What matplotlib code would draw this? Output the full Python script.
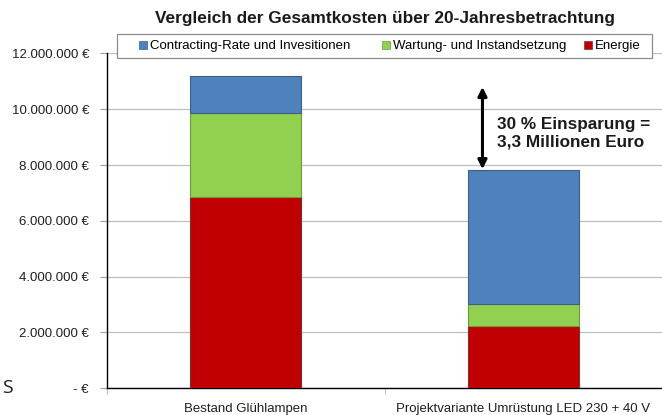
import matplotlib
matplotlib.use("Agg")
import matplotlib.pyplot as plt
from matplotlib.patches import Patch, Rectangle
from matplotlib.ticker import FuncFormatter

plt.rcParams['font.family'] = ['Liberation Sans', 'DejaVu Sans']

categories = ["Bestand Glühlampen", "Projektvariante Umrüstung LED 230 + 40 V"]
energie = [6860000, 2210000]
wartung = [3000000, 820000]
contracting = [1320000, 4790000]
series_names = ["Contracting-Rate und Invesitionen", "Wartung- und Instandsetzung", "Energie"]
yticks = [0, 2000000, 4000000, 6000000, 8000000, 10000000, 12000000]
title = "Vergleich der Gesamtkosten über 20-Jahresbetrachtung"
annotation = "30 % Einsparung =\n3,3 Millionen Euro"

c_blue, e_blue = "#4F81BD", "#3A5F8C"
c_green, e_green = "#92D050", "#6E9C3C"
c_red, e_red = "#C00000", "#7F3030"

W, H = 662, 415
fig = plt.figure(figsize=(W/100, H/100), dpi=100)
ax = fig.add_axes([107/W, 1-388/H, 1-107/W, (388-53.5)/H])

x = list(range(len(categories)))
w = 0.40
bottom2 = [a + b for a, b in zip(energie, wartung)]
ax.bar(x, energie, w, color=c_red, edgecolor=e_red, linewidth=0.8, zorder=3)
ax.bar(x, wartung, w, bottom=energie, color=c_green, edgecolor=e_green, linewidth=0.8, zorder=3)
ax.bar(x, contracting, w, bottom=bottom2, color=c_blue, edgecolor=e_blue, linewidth=0.8, zorder=3)

ax.set_xlim(-0.5, 1.5)
ax.set_ylim(0, 12000000)
ax.set_yticks(yticks)

def fmt(v, pos):
    if v == 0:
        return "- €"
    return "{:,.0f} €".format(v).replace(",", ".")
ax.yaxis.set_major_formatter(FuncFormatter(fmt))
ax.grid(axis='y', color='#BFBFBF', linewidth=0.9, zorder=0)
ax.set_axisbelow(True)

for s in ['top', 'right']:
    ax.spines[s].set_visible(False)
ax.spines['left'].set_color('black')
ax.spines['left'].set_linewidth(1.0)
ax.spines['bottom'].set_color('black')
ax.spines['bottom'].set_linewidth(1.0)

ax.tick_params(axis='y', direction='out', length=5, width=0.8, color='#A0A0A0',
               labelsize=9.5, labelcolor='#202020', pad=8)
ax.set_xticks([-0.5, 0.5])
ax.set_xticklabels([])
ax.tick_params(axis='x', which='major', direction='out', length=4, width=0.8, color='#C0C0C0')
ax.set_xticks(x, minor=True)
ax.set_xticklabels(categories, minor=True)
ax.tick_params(axis='x', which='minor', length=0, labelsize=9.5, labelcolor='#202020', pad=11)

fig.text(384.5/W, 1-18.5/H, title, ha='center', va='center',
         fontsize=12.4, fontweight='bold', color='#1a1a1a')

# legend box
box = Rectangle((117/W, 1-58/H), (652-117)/W, 24/H, transform=fig.transFigure,
                facecolor='white', edgecolor='#8C8C8C', linewidth=0.9, zorder=10)
fig.patches.append(box)

handles = [Patch(facecolor=c_blue, edgecolor=e_blue, linewidth=0.5),
           Patch(facecolor=c_green, edgecolor=e_green, linewidth=0.5),
           Patch(facecolor=c_red, edgecolor=e_red, linewidth=0.5)]
entry_x = [139, 382, 584]
for hdl, name, ex in zip(handles, series_names, entry_x):
    lg = fig.legend([hdl], [name], loc='center left',
                    bbox_to_anchor=(ex/W, 1-46.5/H), fontsize=9.5, frameon=False,
                    handlelength=0.6, handleheight=0.6, handletextpad=0.2,
                    borderpad=0, borderaxespad=0)
    lg.set_zorder(11)

ax.annotate("", xy=(0.853, 7850000), xytext=(0.853, 10800000),
            arrowprops=dict(arrowstyle='<|-|>', color='black', lw=2.2,
                            mutation_scale=13, shrinkA=0, shrinkB=0), zorder=5)
ax.text(0.905, 9150000, annotation, ha='left', va='center', fontsize=12.3,
        fontweight='bold', color='#1a1a1a', linespacing=1.2)

fig.text(2/W, 1-388/H, "S", ha='left', va='center', fontsize=14,
         family=['Open Sans', 'DejaVu Sans'], color='#202020')

fig.savefig("out.png", dpi=100)
